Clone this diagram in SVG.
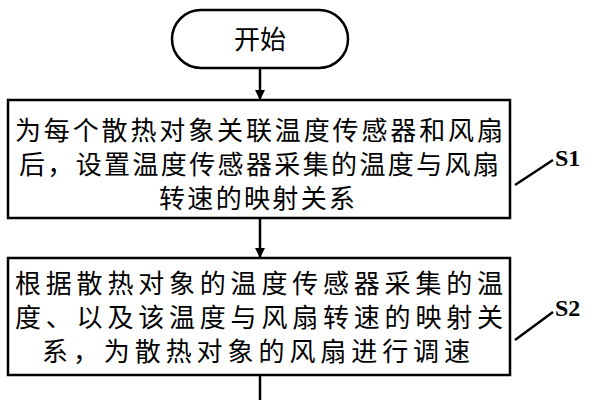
<svg xmlns="http://www.w3.org/2000/svg" width="612" height="400" viewBox="0 0 612 400">
<style>
.b{fill:#fff;stroke:#000;stroke-width:2.5}
.t{font-family:"Noto Sans CJK SC","Liberation Serif",serif;font-size:26px;fill:#000;text-anchor:middle}
.l{font-family:"Liberation Serif",serif;font-size:24px;font-weight:bold;fill:#000}
.c{stroke:#000;stroke-width:2.5;fill:none}
</style>
<defs><marker id="a" markerWidth="10" markerHeight="10" refX="9" refY="5" orient="auto" markerUnits="userSpaceOnUse" viewBox="0 0 10 10"><path d="M0,0L10,5L0,10z" fill="#000"/></marker></defs>
<rect width="612" height="400" fill="#fff"/>
<g id="start"><rect class="b" x="172" y="10" width="176" height="58" rx="29"/><text class="t" x="260" y="49">开始</text></g>
<g id="s1"><rect class="b" x="8" y="100" width="502" height="118"/>
<text class="t" x="259" y="140" textLength="488" lengthAdjust="spacing">为每个散热对象关联温度传感器和风扇</text>
<text class="t" x="259" y="174" textLength="480" lengthAdjust="spacing">后，设置温度传感器采集的温度与风扇</text>
<text class="t" x="257" y="208" textLength="196" lengthAdjust="spacing">转速的映射关系</text>
<text class="l" x="555" y="166">S1</text></g>
<g id="s2"><rect class="b" x="8" y="258" width="502" height="117"/>
<text class="t" x="259" y="293" textLength="488" lengthAdjust="spacing">根据散热对象的温度传感器采集的温</text>
<text class="t" x="259" y="327" textLength="488" lengthAdjust="spacing">度、以及该温度与风扇转速的映射关</text>
<text class="t" x="256" y="361" textLength="428" lengthAdjust="spacing">系，为散热对象的风扇进行调速</text>
<text class="l" x="555" y="316">S2</text></g>
<g id="connectors">
<line class="c" x1="260" y1="68" x2="260" y2="99" marker-end="url(#a)"/>
<line class="c" x1="260" y1="218" x2="260" y2="257" marker-end="url(#a)"/>
<line class="c" x1="260" y1="375" x2="260" y2="400"/>
<line class="c" x1="515" y1="185" x2="553" y2="160"/>
<line class="c" x1="515" y1="340" x2="553" y2="312"/>
</g>
</svg>
